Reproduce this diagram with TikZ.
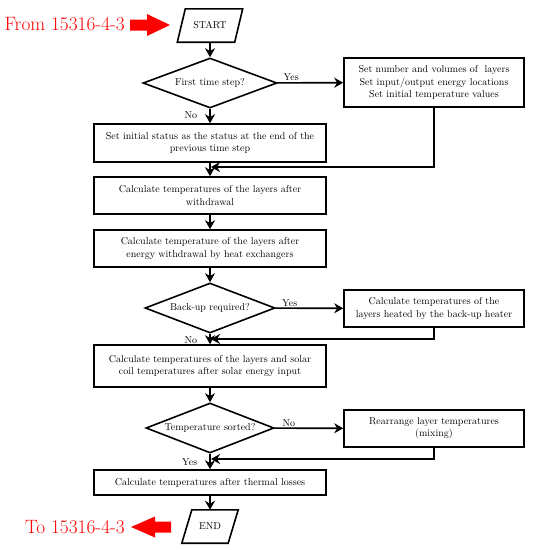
\documentclass[tikz,border=0pt]{standalone}
\usetikzlibrary{arrows.meta,shapes.geometric}
\begin{document}
\begin{tikzpicture}[x=1pt,y=-1pt,
  txt/.style={font=\fontsize{10}{12.5}\selectfont},
  box/.style={txt, draw, line width=1.6pt, align=center, inner sep=2pt},
  mainbox/.style={box, minimum width=232pt},
  sidebox/.style={box, minimum width=180pt},
  dec/.style={txt, draw, diamond, aspect=2.6, line width=1.6pt, inner sep=0pt, minimum height=50pt},
  io/.style={txt, inner sep=0pt, minimum height=33pt},
  ioline/.style={line width=1.6pt, line join=miter},
  arr/.style={line width=1.6pt, -{Stealth[length=9pt,width=10pt]}},
  lbl/.style={txt, inner sep=1pt},
  redtxt/.style={text=red, font=\fontsize{19.3}{22}\selectfont, inner sep=0pt},
  redarrow/.style={fill=red}]
\useasboundingbox (0,0) rectangle (540,550);

% terminals
\node[io, minimum width=57pt] (start) at (210,25.5) {START};
\draw[ioline] ([xshift=4pt]start.north west) -- ([xshift=4pt]start.north east)
  -- ([xshift=-4pt]start.south east) -- ([xshift=-4pt]start.south west) -- cycle;
\node[io, minimum width=46pt] (end) at (210,526.5) {END};
\draw[ioline] ([xshift=5pt]end.north west) -- ([xshift=5pt]end.north east)
  -- ([xshift=-5pt]end.south east) -- ([xshift=-5pt]end.south west) -- cycle;

% decisions
\node[dec, minimum width=134pt] (d1) at (210,83) {First time step?};
\node[dec, minimum width=130pt] (d2) at (210,308) {Back-up required?};
\node[dec, minimum width=128pt] (d3) at (210,428) {Temperature sorted?};

% boxes
\node[sidebox, minimum height=49pt] (b1) at (434,82.5) {Set number and volumes of \ layers\\Set input/output energy locations\\Set initial temperature values};
\node[mainbox, minimum height=38pt] (b2) at (210,143) {Set initial status as the status at the end of the\\previous time step};
\node[mainbox, minimum height=37pt] (b3) at (210,195.5) {Calculate temperatures of the layers after\\withdrawal};
\node[mainbox, minimum height=37pt] (b4) at (210,248.5) {Calculate temperature of the layers after\\energy withdrawal by heat exchangers};
\node[sidebox, minimum height=37pt] (b5) at (434,308.5) {Calculate temperatures of the\\layers heated by the back-up heater};
\node[mainbox, minimum height=42pt] (b6) at (210,366) {Calculate temperatures of the layers and solar\\coil temperatures after solar energy input};
\node[sidebox, minimum height=37pt] (b7) at (434,428.5) {Rearrange layer temperatures\\(mixing)};
\node[mainbox, minimum height=25pt] (b8) at (210,482.5) {Calculate temperatures after thermal losses};

% merge points
\coordinate (m1) at (211,167);
\coordinate (m2) at (211,339);
\coordinate (m3) at (211,459);

% connectors
\draw[arr] (start) -- (d1);
\draw[arr] (d1) -- node[lbl, above, pos=0.21]{Yes} (b1);
\draw[arr] (d1) -- node[lbl, left=11pt, pos=0.44]{No} (b2);
\draw[arr] (b1.south) |- (m1);
\draw[arr] (b2) -- (b3);
\draw[arr] (b3) -- (b4);
\draw[arr] (b4) -- (d2);
\draw[arr] (d2) -- node[lbl, above, pos=0.21]{Yes} (b5);
\draw[arr] (d2) -- node[lbl, left=11pt, pos=0.58]{No} (b6);
\draw[arr] (b5.south) |- (m2);
\draw[arr] (b6) -- (d3);
\draw[arr] (d3) -- node[lbl, above, pos=0.21]{No} (b7);
\draw[arr] (d3) -- node[lbl, left=11pt, pos=0.53]{Yes} (b8);
\draw[arr] (b7.south) |- (m3);
\draw[arr] (b8) -- (end);

% red entry / exit markers
\node[redtxt, anchor=base east] (fromtxt) at (125,30.5) {From 15316-4-3};
\fill[redarrow] (130,19.5) -- (147,19.5) -- (147,14) -- (170,25) -- (147,36) -- (147,30.5) -- (130,30.5) -- cycle;
\node[redtxt, anchor=base east] (totxt) at (125,533) {To 15316-4-3};
\fill[redarrow] (171,521.5) -- (155,521.5) -- (155,516.5) -- (131,527) -- (155,537.5) -- (155,532.5) -- (171,532.5) -- cycle;
\end{tikzpicture}
\end{document}
